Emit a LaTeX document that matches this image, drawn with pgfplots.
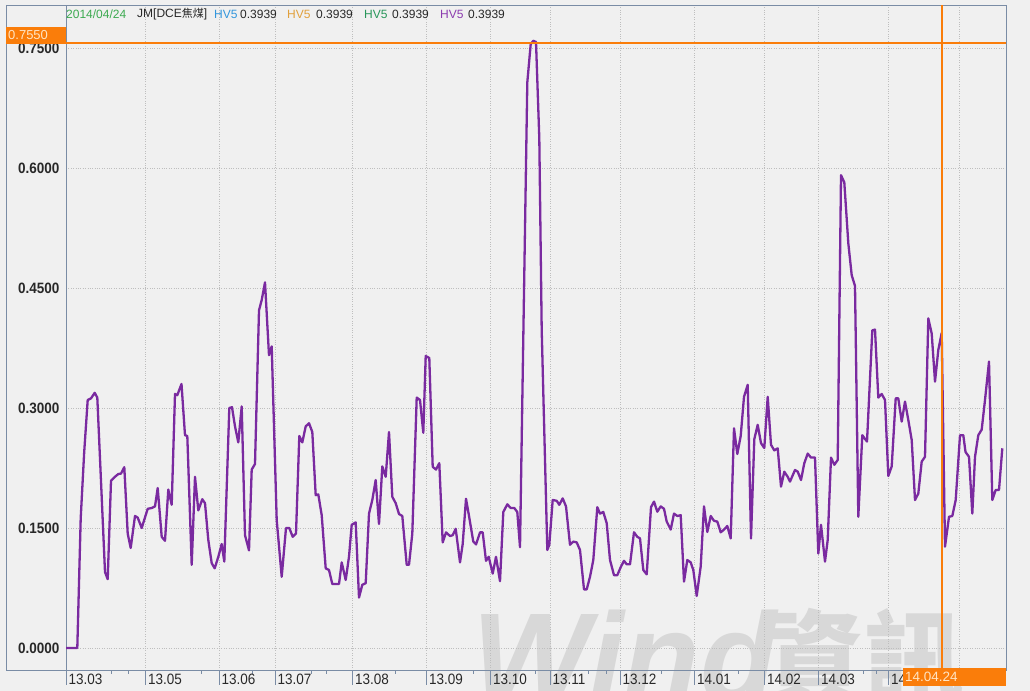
\documentclass[border=0pt]{standalone}
\usepackage{fontspec}
\setmainfont{Liberation Sans}
\newfontfamily\cjk{Noto Sans CJK SC}
\newfontfamily\cjktc{Noto Sans CJK TC}
\newfontfamily\tickfont{Liberation Sans}[FakeStretch=0.9]
\usepackage{pgfplots}
\pgfplotsset{compat=1.18}
\definecolor{bg}{RGB}{240,240,240}
\definecolor{wm}{RGB}{216,216,216}
\definecolor{framec}{RGB}{122,140,165}
\definecolor{gridc}{RGB}{190,190,190}
\definecolor{purp}{RGB}{122,42,160}
\definecolor{orbox}{RGB}{250,125,10}
\definecolor{ortext}{RGB}{255,228,195}
\definecolor{hgreen}{RGB}{60,170,80}
\definecolor{hblue}{RGB}{50,150,220}
\definecolor{horange}{RGB}{225,160,60}
\definecolor{hgreen2}{RGB}{40,150,90}
\definecolor{hpurp}{RGB}{140,60,175}
\definecolor{txt}{RGB}{40,40,40}
\begin{document}
\begin{tikzpicture}[x=1bp,y=1bp]
\fill[bg] (0,0) rectangle (1030,691);
\useasboundingbox (0,0) rectangle (1030,691);
\node[anchor=base west, text=wm, inner sep=0pt, font=\fontsize{125bp}{125bp}\selectfont\bfseries\itshape] at (472,-10) {Wind};
\node[anchor=base west, text=wm, inner sep=0pt, font=\fontsize{100bp}{100bp}\selectfont\cjktc\bfseries] at (764,-4) {資訊};
\begin{axis}[
  at={(66bp,21bp)}, anchor=south west,
  scale only axis, width=940bp, height=665bp,
  xmin=66, xmax=1006, ymin=-0.0275, ymax=0.80375,
  axis line style={draw=framec, line width=0.8bp},
  tick align=outside,
  major tick length=15bp, minor tick length=4bp,
  tick style={draw=framec, line width=0.6bp},
  xtick pos=bottom, ytick pos=left,
  xtick={66,145.3,219,275,352.3,426.5,490.5,550,620,694.3,764.3,818.3,888.3,959},
  xticklabels={13.03,13.05,13.06,13.07,13.08,13.09,13.10,13.11,13.12,14.01,14.02,14.03,14.04,14.05},
  minor xtick={111.7,128.3,201.7,252.7,311.7,326.7,395,473.3,535,588.3,606.7,661.7,738.3,863.3,876.7},
  ytick={0,0.15,0.3,0.45,0.6,0.75},
  yticklabels={0.0000,0.1500,0.3000,0.4500,0.6000,0.7500},
  ytick style={draw=none},
  grid=major,
  major grid style={dotted, draw=gridc, line width=0.5bp},
  xticklabel style={anchor=west, inner sep=0pt, xshift=2.5bp, yshift=6bp, text=txt,
     font=\tickfont\fontsize{15bp}{15bp}\selectfont},
  yticklabel style={anchor=east, inner sep=0pt, xshift=8.5bp, text=txt,
     font=\tickfont\bfseries\fontsize{15bp}{15bp}\selectfont},
]
\addplot[purp, line width=2.3bp, line join=round] coordinates {
(66,0) (77.3,0) (80.7,0.162) (84.2,0.245) (87.7,0.31) (91,0.312) (94.7,0.319) (97.3,0.313) (101.3,0.2) (105,0.095) (107.7,0.086) (111,0.209) (115,0.214) (118.3,0.2175) (121,0.218) (124.3,0.226) (127.7,0.143) (130.7,0.125) (135,0.165) (137.7,0.163) (141.7,0.150) (144.7,0.162) (147.7,0.174) (151.7,0.175) (155,0.177) (157.7,0.2) (161.7,0.139) (165,0.134) (168.3,0.198) (171.7,0.179) (175,0.3175) (177.3,0.316) (181.5,0.330) (185,0.266) (187.3,0.265) (191.7,0.104) (195,0.214) (198.3,0.172) (202.3,0.186) (205,0.181) (208.3,0.135) (211.7,0.106) (214.7,0.0996) (218.3,0.114) (221.7,0.13) (224.3,0.108) (229.3,0.300) (232,0.301) (235,0.277) (238.3,0.257) (241.7,0.302) (245,0.141) (249,0.122) (251.7,0.223) (255,0.23) (259,0.422) (261.7,0.435) (265,0.457) (269,0.366) (271.7,0.377) (276.7,0.16) (281.7,0.089) (286,0.150) (289.3,0.150) (292.7,0.139) (296,0.143) (299.3,0.265) (302.3,0.257) (305.7,0.277) (309,0.281) (312.3,0.270) (315.7,0.191) (318.3,0.192) (321.7,0.166) (325.7,0.0996) (329,0.0975) (332.3,0.08) (335.7,0.08) (339,0.08) (341.7,0.107) (345.7,0.085) (349,0.114) (351.7,0.154) (355.7,0.157) (359,0.063) (362.3,0.079) (365.7,0.081) (369,0.168) (372.3,0.185) (375.7,0.21) (379,0.155) (382.3,0.227) (385.7,0.214) (389,0.270) (392.3,0.189) (395.7,0.181) (399,0.1675) (402.3,0.165) (406.7,0.104) (409,0.104) (412.3,0.143) (416.7,0.313) (420,0.31) (423.3,0.269) (425.7,0.365) (429.3,0.3625) (432.7,0.2265) (436,0.223) (439.3,0.231) (442.7,0.132) (446,0.1445) (450,0.14) (452.7,0.141) (455.7,0.149) (460,0.107) (462.7,0.130) (466,0.1866) (469.3,0.163) (473.3,0.133) (476,0.1295) (480,0.1445) (482.7,0.1445) (486,0.109) (488.7,0.114) (492.7,0.093) (496,0.114) (500,0.0835) (503.3,0.170) (507.3,0.1796) (510.7,0.175) (514.3,0.175) (517.3,0.170) (520,0.126) (527.3,0.707) (530.7,0.7548) (533.3,0.759) (536,0.7575) (539.3,0.637) (541.7,0.3975) (544.5,0.26) (547.3,0.1225) (549.3,0.129) (552.7,0.185) (556.7,0.184) (559.3,0.179) (562.7,0.187) (566,0.177) (570,0.129) (573.3,0.133) (576.7,0.132) (580,0.1225) (584,0.0733) (586.7,0.0733) (590,0.089) (593.3,0.11) (597.3,0.176) (600,0.168) (603.3,0.170) (606.7,0.156) (610,0.11) (614,0.091) (617.3,0.091) (620.7,0.101) (624,0.109) (626.7,0.1046) (630,0.1046) (634,0.1446) (637.3,0.139) (640,0.137) (643.3,0.0975) (646.7,0.092) (651,0.176) (654,0.183) (657.3,0.1704) (660.7,0.177) (664,0.174) (666.7,0.158) (670.7,0.148) (674,0.168) (677.3,0.165) (680.7,0.166) (684,0.083) (687.3,0.11) (690.7,0.107) (693.3,0.0975) (696.7,0.065) (700.7,0.102) (704,0.177) (707.3,0.145) (710.7,0.165) (714,0.159) (717.3,0.158) (720.7,0.1446) (724,0.148) (727.3,0.1525) (730.7,0.137) (734,0.2746) (737.3,0.2425) (740.7,0.265) (744,0.314) (747.7,0.329) (751,0.137) (754.3,0.261) (757.7,0.279) (761,0.256) (764.3,0.250) (767.7,0.314) (771,0.254) (774.3,0.247) (777.7,0.2496) (781,0.2017) (784.3,0.2204) (787.7,0.214) (790,0.208) (795,0.2225) (797.7,0.2204) (801,0.21) (804.3,0.231) (807.7,0.243) (811,0.238) (815,0.238) (818.3,0.118) (821,0.154) (825,0.108) (827.7,0.135) (831,0.238) (834.3,0.229) (837.7,0.235) (841,0.591) (844.3,0.582) (848.3,0.506) (851.7,0.466) (855,0.4525) (858.3,0.164) (862.3,0.266) (867,0.258) (872.3,0.397) (875,0.398) (878.3,0.313) (881.7,0.3175) (885,0.31) (888.3,0.215) (891.7,0.227) (895.7,0.312) (898.3,0.312) (901.7,0.283) (905,0.308) (908.3,0.285) (911.7,0.26) (915,0.185) (918.3,0.193) (921.7,0.233) (925,0.239) (928.3,0.412) (931.7,0.393) (935,0.333) (938.3,0.3725) (941.7,0.3939) (945,0.1267) (949,0.164) (952.3,0.165) (955.7,0.185) (960,0.266) (963.3,0.266) (965.5,0.245) (969,0.239) (972.3,0.168) (975,0.239) (978.3,0.266) (981.7,0.273) (985,0.31) (989,0.358) (992.3,0.185) (995.7,0.1975) (999,0.1975) (1002.3,0.2496)
};
\end{axis}
% cursor lines (orange), on top
\fill[orbox] (66,646.5) rectangle (1006,648.5);
\fill[orbox] (941,21) rectangle (942.5,686);
% left label strip frame
\draw[framec, line width=0.8bp] (6,686) -- (6,21) -- (66,21);
\draw[framec, line width=0.8bp] (6,686) -- (66,686);
% orange value box
\fill[orbox] (6,647) rectangle (66,664);
\node[anchor=west, inner sep=0pt, text=ortext, font=\fontsize{13bp}{13bp}\selectfont] at (8,655.5) {0.7550};
% orange date box
\fill[orbox] (903,5) rectangle (1006,23);
\node[anchor=west, inner sep=0pt, text=ortext, font=\fontsize{13.5bp}{13.5bp}\selectfont] at (905,14) {14.04.24};
% header
\begin{scope}[every node/.style={anchor=west, inner sep=0pt, font=\fontsize{12bp}{12bp}\selectfont}]
\node[text=hgreen] at (66,677) {2014/04/24};
\node[text=txt] at (137,677) {JM[DCE{\cjk\fontsize{11bp}{11bp}\selectfont 焦煤}]};
\node[text=hblue] at (214,677) {HV5};
\node[text=txt] at (240,677) {0.3939};
\node[text=horange] at (287,677) {HV5};
\node[text=txt] at (316,677) {0.3939};
\node[text=hgreen2] at (364,677) {HV5};
\node[text=txt] at (392,677) {0.3939};
\node[text=hpurp] at (440,677) {HV5};
\node[text=txt] at (468,677) {0.3939};
\end{scope}
\end{tikzpicture}
\end{document}
